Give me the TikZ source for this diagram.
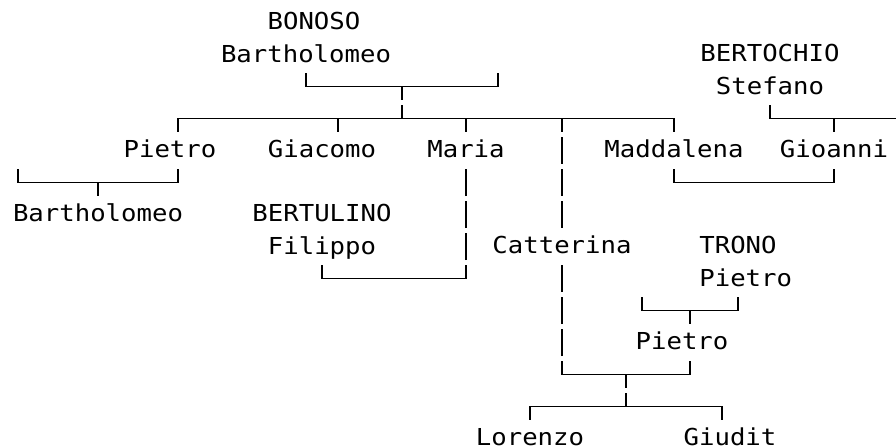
\documentclass[tikz,border=0pt]{standalone}
\usepackage{fontspec}
\usepackage{tikz}
\usetikzlibrary{positioning}

\newfontfamily\treefont[FakeStretch=1.1]{DejaVu Sans Mono}

\begin{document}
\begin{tikzpicture}[x=12pt, y=-24pt,
    person/.style={font=\treefont\fontsize{17.5}{21}\selectfont, inner sep=0pt, text height=15.375pt, text depth=4.875pt},
    bar/.style={line width=1.4pt, line cap=rect},
    drop/.style={line width=1.4pt, dash pattern=on 20.25pt off 3.75pt, dash phase=10.125pt}]
    \useasboundingbox (-1.125,-0.703125) rectangle (54.875,13.265625);
    % junctions
    \coordinate (aL) at (18,2);
    \coordinate (aM) at (24,2);
    \coordinate (aR) at (30,2);
    \coordinate (kL) at (10,3);
    \coordinate (kG) at (20,3);
    \coordinate (kR) at (41,3);
    \coordinate (sL) at (47,3);
    \coordinate (sR) at (54.9,3);
    \coordinate (pL) at (0,5);
    \coordinate (pR) at (10,5);
    \coordinate (mL) at (41,5);
    \coordinate (mR) at (51,5);
    \coordinate (fR) at (28,8);
    \coordinate (tL) at (39,9);
    \coordinate (tM) at (42,9);
    \coordinate (tR) at (45,9);
    \coordinate (cL) at (34,11);
    \coordinate (cM) at (38,11);
    \coordinate (cR) at (42,11);
    \coordinate (gL) at (32,12);
    \coordinate (gR) at (44,12);
    % names
    \node[person] (bonoso) at (18.5,0) {BONOSO};
    \node[person, below=3.75pt of bonoso, xshift=-6pt] (bartA) {Bartholomeo};
    \node[person] (bertochio) at (47,1) {BERTOCHIO};
    \node[person, below=3.75pt of bertochio] (stefano) {Stefano};
    \node[person] (pietro) at (9.5,4) {Pietro};
    \node[person] (giacomo) at (19,4) {Giacomo};
    \node[person] (maria) at (28,4) {Maria};
    \node[person] (maddalena) at (41,4) {Maddalena};
    \node[person] (gioanni) at (51,4) {Gioanni};
    \node[person] (bartB) at (5,6) {Bartholomeo};
    \node[person] (bertulino) at (19,6) {BERTULINO};
    \node[person, below=3.75pt of bertulino] (filippo) {Filippo};
    \node[person] (catterina) at (34,7) {Catterina};
    \node[person] (trono) at (45,7) {TRONO};
    \node[person, below=3.75pt of trono.south west, anchor=north west] (pietroT) {Pietro};
    \node[person] (pietroC) at (41.5,10) {Pietro};
    \node[person, text depth=0pt, below=13.875pt of gL] (lorenzo) {Lorenzo};
    \node[person, text depth=0pt, below=13.875pt of gR, xshift=6pt] (giudit) {Giudit};
    % BONOSO family
    \draw[bar] (aL) -- (aR);
    \draw[drop] (aL) -- (bartA.south -| aL);
    \draw[drop] (aR) -- ++(0,-0.5);
    \draw[drop] (aM) -- (aM |- kL);
    \draw[bar] (kL) -- (kR);
    \draw[drop] (kL) -- (kL |- pietro.north);
    \draw[drop] (kG) -- (kG |- giacomo.north);
    \draw[drop] (maria.north |- kL) -- (maria.north);
    \draw[drop] (catterina.north |- kL) -- (catterina.north);
    \draw[drop] (kR) -- (maddalena.north);
    % BERTOCHIO family
    \draw[bar] (sL) -- (sR);
    \draw[drop] (sL) -- (stefano.south);
    \draw[drop] (gioanni.north |- sL) -- (gioanni.north);
    % Pietro
    \draw[bar] (pL) -- (pR);
    \draw[drop] (pL) -- ++(0,-0.5);
    \draw[drop] (pR) -- (pR |- pietro.south);
    \draw[drop] (bartB.north |- pL) -- (bartB.north);
    % Maddalena and Gioanni
    \draw[bar] (mL) -- (mR);
    \draw[drop] (mL) -- (maddalena.south);
    \draw[drop] (mR) -- (gioanni.south);
    % Maria and Filippo
    \draw[bar] (filippo.south |- fR) -- (fR);
    \draw[drop] (filippo.south |- fR) -- (filippo.south);
    \draw[drop] (fR) -- (maria.south);
    % TRONO
    \draw[bar] (tL) -- (tR);
    \draw[drop] (tL) -- ++(0,-0.5);
    \draw[drop] (tR) -- (tR |- pietroT.south);
    \draw[drop] (tM) -- (tM |- pietroC.north);
    % Catterina and Pietro
    \draw[bar] (cL) -- (cR);
    \draw[drop] (cL) -- (catterina.south);
    \draw[drop] (cR) -- (cR |- pietroC.south);
    \draw[drop] (cM) -- (cM |- gL);
    \draw[bar] (gL) -- (gR);
    \draw[drop] (gL) -- (lorenzo.north);
    \draw[drop] (gR) -- (gR |- giudit.north);
\end{tikzpicture}
\end{document}
